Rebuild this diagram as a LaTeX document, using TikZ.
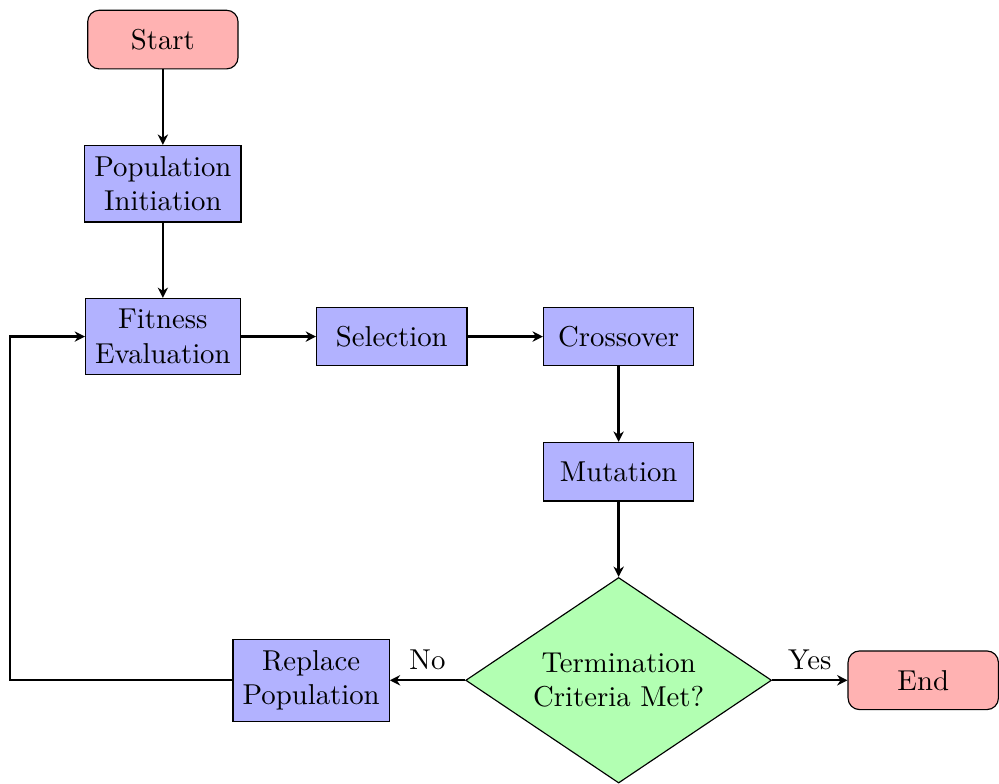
\documentclass[tikz,border=0pt]{standalone}
\usepackage{tikz}
\usetikzlibrary{shapes.geometric, arrows.meta, positioning, calc}

\begin{document}
\begin{tikzpicture}[
  node distance=26.2pt,
  startstop/.style={rectangle, rounded corners, minimum width=52.3pt, minimum height=20.4pt, align=center, draw=black, fill=red!30},
  process/.style={rectangle, minimum width=52.3pt, minimum height=20.4pt, inner ysep=3.8pt, align=center, draw=black, fill=blue!30},
  decision/.style={diamond, aspect=1.5, minimum width=106.4pt, minimum height=71.5pt, inner sep=0pt, align=center, draw=black, fill=green!30},
  flowline/.style={thick, -{Stealth[length=3.6pt, width=3.6pt]}}
]
\node (start) [startstop] {Start};
\node (init) [process, below=of start] {Population \\ Initiation};
\node (fitness) [process, below=of init] {Fitness \\ Evaluation};
\node (select) [process, right=of fitness] {Selection};
\node (cross) [process, right=of select] {Crossover};
\node (mutate) [process, below=of cross] {Mutation};
\node (check) [decision, below=of mutate] {Termination \\ Criteria Met?};
\node (replace) [process, left=of check] {Replace \\ Population};
\node (stop) [startstop, right=of check] {End};
\coordinate (loop) at ($(fitness.west |- replace.west)+(-26.2pt,0)$);

\useasboundingbox ($(loop |- start.north)+(-3.37pt,3.37pt)$) rectangle ++(337pt,-265.5pt);

\draw [flowline] (start) -- (init);
\draw [flowline] (init) -- (fitness);
\draw [flowline] (fitness) -- (select);
\draw [flowline] (select) -- (cross);
\draw [flowline] (cross) -- (mutate);
\draw [flowline] (mutate) -- (check);
\draw [flowline] (check) -- node[above] {No} (replace);
\draw [flowline] (check) -- node[above] {Yes} (stop);
\draw [flowline] (replace.west) -- (loop) |- (fitness.west);
\end{tikzpicture}
\end{document}
